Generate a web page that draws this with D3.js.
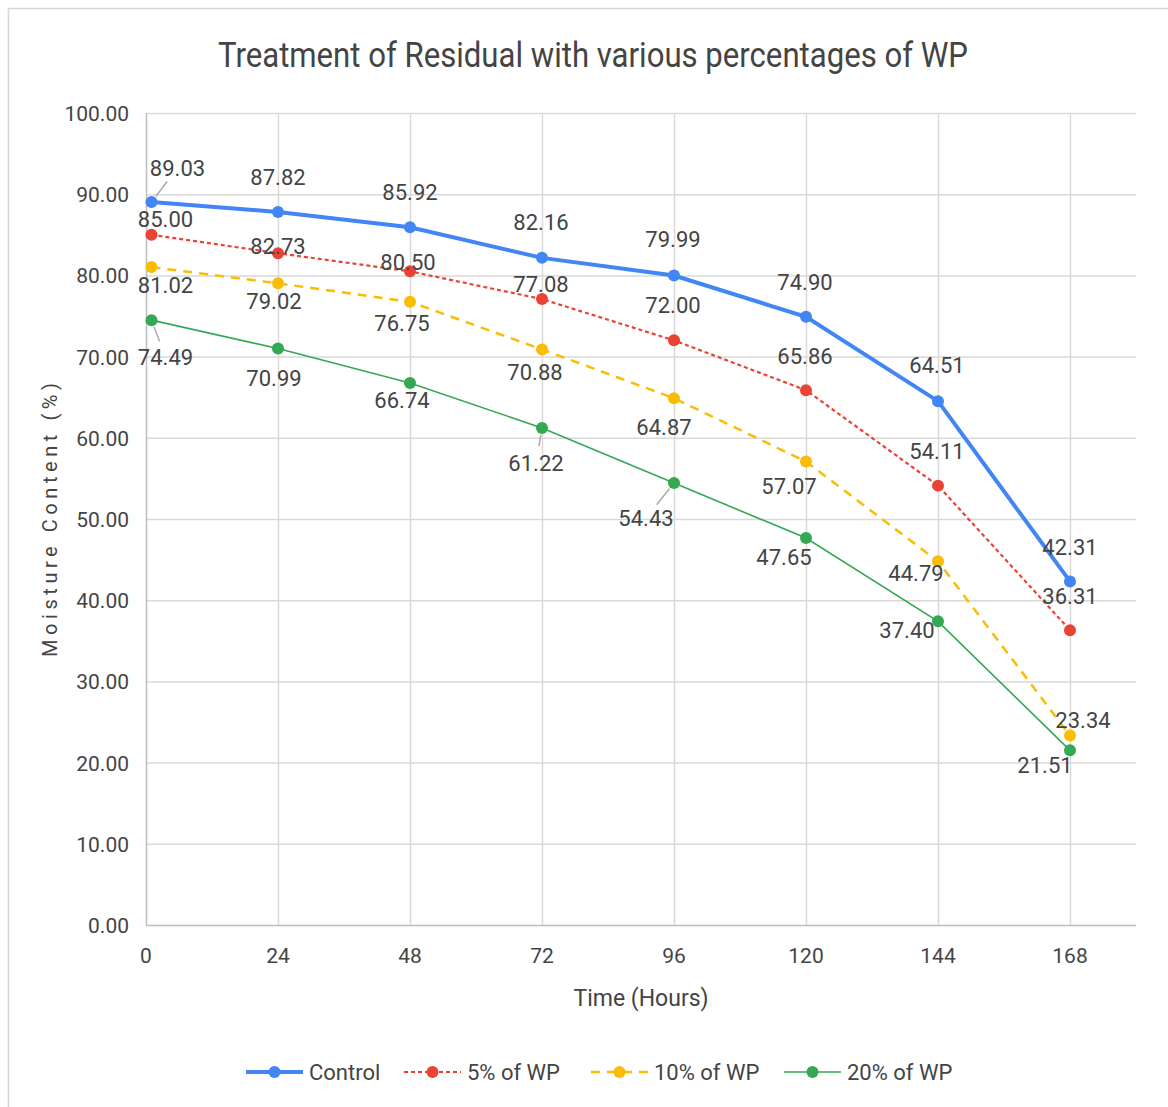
<!DOCTYPE html>
<html>
<head>
<meta charset="utf-8">
<style>
  body { margin: 0; background: #fff; }
  text { font-family: Roboto, "Liberation Sans", Arial, sans-serif; fill: #444; }
</style>
</head>
<body>
<svg width="1168" height="1107"></svg>
<script src="https://d3js.org/d3.v7.min.js"></script>
<script>
// data
const hours = [1, 24, 48, 72, 96, 120, 144, 168];
const xTicks = [0, 24, 48, 72, 96, 120, 144, 168];
const yTicks = [0, 10, 20, 30, 40, 50, 60, 70, 80, 90, 100];
const seriesNames = ['Control', '5% of WP', '10% of WP', '20% of WP'];
const control = [89.03, 87.82, 85.92, 82.16, 79.99, 74.90, 64.51, 42.31];
const wp5 = [85.00, 82.73, 80.50, 77.08, 72.00, 65.86, 54.11, 36.31];
const wp10 = [81.02, 79.02, 76.75, 70.88, 64.87, 57.07, 44.79, 23.34];
const wp20 = [74.49, 70.99, 66.74, 61.22, 54.43, 47.65, 37.40, 21.51];

// label placement (offset of label centre from point), and styling per series
const labelOffsets = [
  [[26, -34], [0, -35], [0, -35], [-1, -36], [-1, -36], [-1, -35], [-1, -36], [0, -34]],
  [[14, -16], [0, -7], [-2, -9], [-1, -15], [-1, -35], [-1, -34], [-1, -35], [0, -34]],
  [[14, 18], [-4, 18], [-8, 21], [-7, 23], [-10, 29], [-17, 24], [-22, 12], [13, -15]],
  [[14, 37], [-4, 29], [-8, 17], [-6, 35], [-28, 35], [-22, 19], [-31, 9], [-25, 15]]
];
const leaders = [[0, 0], [3, 0], [3, 3], [3, 4]]; // [series, point] with leader lines
const styles = [
  {color: '#4285F4', width: 4, dash: null},
  {color: '#EA4335', width: 2.2, dash: '4,3'},
  {color: '#FBBC04', width: 2.5, dash: '9,7'},
  {color: '#34A853', width: 1.6, dash: null}
];

const series = [control, wp5, wp10, wp20].map((vals, i) => ({
  name: seriesNames[i],
  style: styles[i],
  points: vals.map((v, j) => ({h: hours[j], v: v, off: labelOffsets[i][j]}))
}));

const svg = d3.select('svg');

// outer frame
svg.append('rect').attr('x', 8.5).attr('y', 8.5).attr('width', 1300).attr('height', 1300)
  .attr('fill', 'none').attr('stroke', '#d6d6d6').attr('stroke-width', 1.5);

const x = d3.scaleLinear().domain([0, 180]).range([146, 1136]);
const y = d3.scaleLinear().domain([0, 100]).range([925, 113]);

// gridlines
svg.append('g').selectAll('line').data(yTicks).enter().append('line')
  .attr('x1', x(0)).attr('x2', x(180))
  .attr('y1', d => y(d) + 0.5).attr('y2', d => y(d) + 0.5)
  .attr('stroke', d => d === 0 ? '#bdbdbd' : '#d9d9d9').attr('stroke-width', 1.5);
svg.append('g').selectAll('line').data(xTicks).enter().append('line')
  .attr('x1', d => x(d) + 0.5).attr('x2', d => x(d) + 0.5)
  .attr('y1', y(100)).attr('y2', y(0))
  .attr('stroke', d => d === 0 ? '#bdbdbd' : '#d9d9d9').attr('stroke-width', 1.5);

// axes labels
svg.append('g').selectAll('text').data(yTicks).enter().append('text')
  .attr('x', 129).attr('y', d => y(d) + 8)
  .attr('text-anchor', 'end').attr('font-size', 21)
  .text(d => d.toFixed(2));
svg.append('g').selectAll('text').data(xTicks).enter().append('text')
  .attr('x', d => x(d)).attr('y', 963)
  .attr('text-anchor', 'middle').attr('font-size', 21)
  .text(d => d);

// titles
svg.append('text').attr('x', 218).attr('y', 67).attr('font-size', 35)
  .attr('textLength', 750).attr('lengthAdjust', 'spacingAndGlyphs')
  .attr('fill', '#444').text('Treatment of Residual with various percentages of WP');
svg.append('text').attr('x', 641).attr('y', 1006).attr('text-anchor', 'middle')
  .attr('font-size', 23).text('Time (Hours)');
svg.append('text').attr('transform', 'translate(57,520) rotate(-90)')
  .attr('x', -137).attr('font-size', 20)
  .attr('textLength', 274).attr('lengthAdjust', 'spacing')
  .text('Moisture Content (%)');

// lines
const line = d3.line().x(d => x(d.h)).y(d => y(d.v));
const g = svg.append('g');
series.forEach(s => {
  g.append('path').datum(s.points)
    .attr('fill', 'none').attr('stroke', s.style.color)
    .attr('stroke-width', s.style.width)
    .attr('stroke-dasharray', s.style.dash)
    .attr('d', line);
});
series.forEach(s => {
  g.selectAll(null).data(s.points).enter().append('circle')
    .attr('cx', d => x(d.h)).attr('cy', d => y(d.v)).attr('r', 6)
    .attr('fill', s.style.color);
});

// leader lines
leaders.forEach(([si, pi]) => {
  const p = series[si].points[pi];
  const px = x(p.h), py = y(p.v);
  const lx = px + p.off[0], ly = py + p.off[1];
  const dx = lx - px, dy = ly - py, len = Math.hypot(dx, dy);
  g.append('line')
    .attr('x1', px + dx / len * 7).attr('y1', py + dy / len * 7)
    .attr('x2', lx - dx / len * 17).attr('y2', ly - dy / len * 17)
    .attr('stroke', '#aaa').attr('stroke-width', 1.5);
});

// data labels
series.forEach(s => {
  g.selectAll(null).data(s.points).enter().append('text')
    .attr('x', d => x(d.h) + d.off[0]).attr('y', d => y(d.v) + d.off[1] + 8)
    .attr('text-anchor', 'middle').attr('font-size', 22)
    .text(d => d.v.toFixed(2));
});

// legend
const legendX = [246, 404, 591, 784];
const legend = svg.append('g');
series.forEach((s, i) => {
  const lg = legend.append('g').attr('transform', `translate(${legendX[i]},1072)`);
  lg.append('line').attr('x1', 0).attr('x2', 57).attr('y1', 0).attr('y2', 0)
    .attr('stroke', s.style.color).attr('stroke-width', s.style.width)
    .attr('stroke-dasharray', s.style.dash);
  lg.append('circle').attr('cx', 28.5).attr('cy', 0).attr('r', 6).attr('fill', s.style.color);
  lg.append('text').attr('x', 63).attr('y', 8).attr('font-size', 22).text(s.name);
});
</script>
</body>
</html>
